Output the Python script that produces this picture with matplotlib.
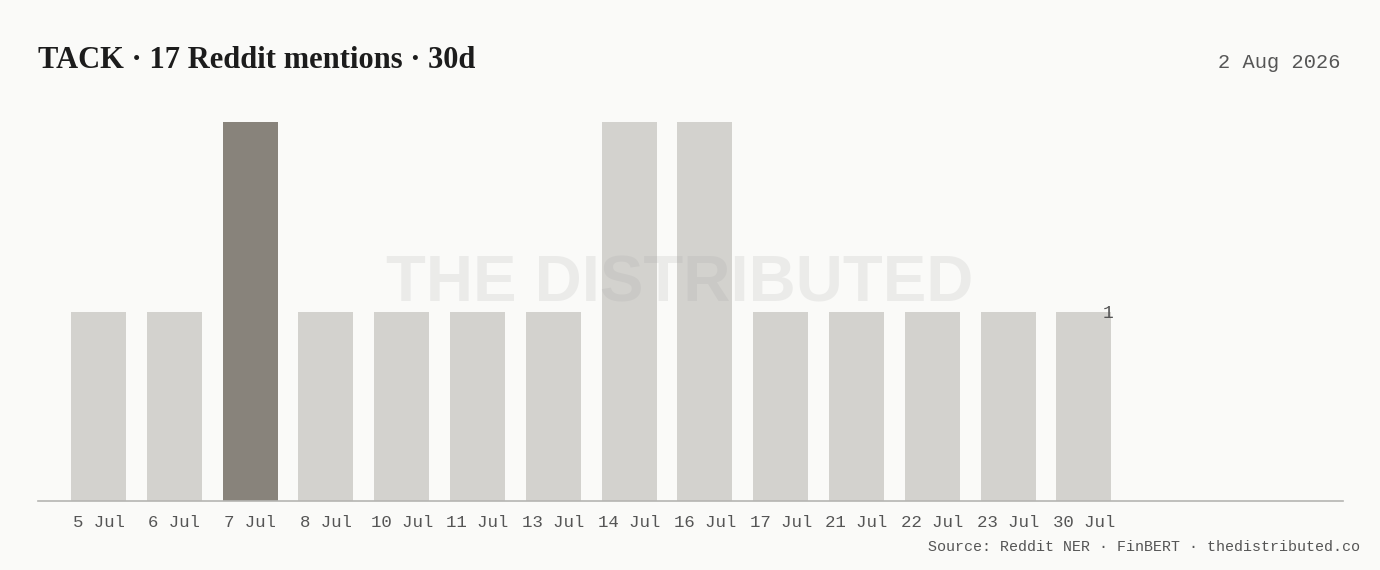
#!/usr/bin/env python
# TACK reddit mentions bar chart
import matplotlib
matplotlib.use('Agg')
import matplotlib.pyplot as plt

dates = ['5 Jul', '6 Jul', '7 Jul', '8 Jul', '10 Jul', '11 Jul', '13 Jul',
         '14 Jul', '16 Jul', '17 Jul', '21 Jul', '22 Jul', '23 Jul', '30 Jul']
mentions = [1, 1, 2, 1, 1, 1, 1, 2, 2, 1, 1, 1, 1, 1]
highlight = '7 Jul'

BG = '#fafaf8'
BAR = '#d3d2ce'
HI = '#88837b'
MONO = 'Liberation Mono'

W, H = 1380, 570
fig = plt.figure(figsize=(W / 100, H / 100), dpi=100, facecolor=BG)
# axes placed in pixel terms: x 38..1343, baseline y=501, value 2 at y=122
ax = fig.add_axes([38 / W, (H - 501) / H, (1343 - 38) / W, (501 - 122) / H])
ax.set_facecolor(BG)

xs = list(range(len(dates)))
colors = [HI if d == highlight else BAR for d in dates]
ax.bar(xs, mentions, width=0.725, color=colors, zorder=2)

step = 75.8
ax.set_xlim(-60.5 / step, (1343 - 38 - 60.5) / step)
ax.set_ylim(0, 2)

ax.set_xticks(xs)
ax.set_xticklabels(dates, family=MONO, fontsize=12.5, color='#555555')
ax.tick_params(axis='x', length=0, pad=10)
ax.set_yticks([])
for s in ['top', 'right', 'left']:
    ax.spines[s].set_visible(False)
ax.spines['bottom'].set_color('#b5b5b2')
ax.spines['bottom'].set_linewidth(1.2)

# value label on the last bar
ax.text(xs[-1] + 0.25, mentions[-1] - 0.01, str(mentions[-1]), family=MONO,
        fontsize=13, color='#555555', ha='left', va='center', zorder=4)

# watermark
fig.text(680 / W, 1 - 285 / H, 'THE DISTRIBUTED', family='Liberation Sans',
         fontweight='bold', fontsize=47, color='#999999', alpha=0.15,
         ha='center', va='center', zorder=5)

fig.text(38 / W, 1 - 60 / H, 'TACK · 17 Reddit mentions · 30d',
         family='Liberation Serif', fontweight='bold', fontsize=22,
         color='#1c1c1c', ha='left', va='center')
fig.text(1341 / W, 1 - 63 / H, '2 Aug 2026', family=MONO, fontsize=14.7,
         color='#555555', ha='right', va='center')
fig.text(1360 / W, 1 - 547 / H, 'Source: Reddit NER · FinBERT · thedistributed.co',
         family=MONO, fontsize=10.8, color='#555555', ha='right', va='center')

fig.savefig('out.png', dpi=100, facecolor=BG)
